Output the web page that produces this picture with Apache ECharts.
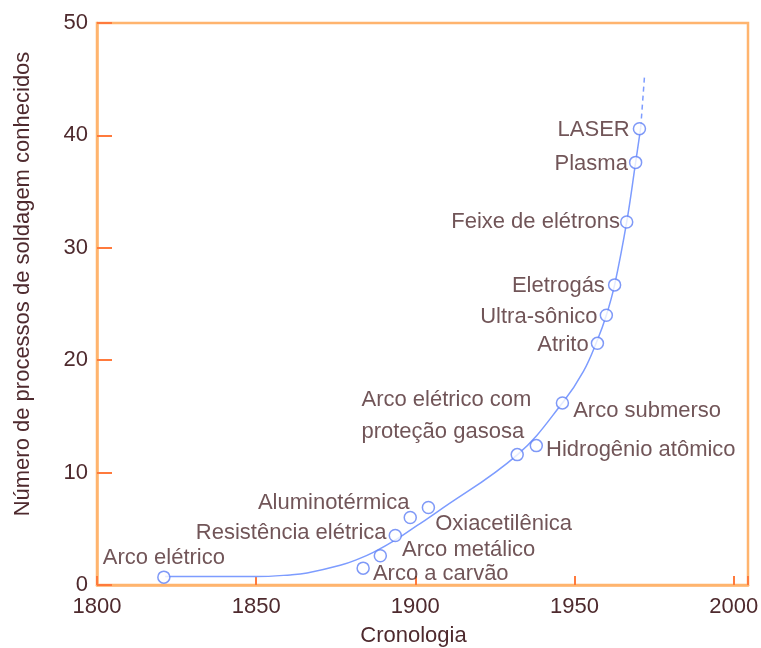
<!DOCTYPE html>
<html>
<head>
<meta charset="utf-8">
<script src="https://cdn.jsdelivr.net/npm/echarts@6/dist/echarts.min.js"></script>
<style>
  html, body { margin: 0; padding: 0; background: #fff; }
  #chart { width: 761px; height: 648px; }
</style>
</head>
<body>
<div id="chart"></div>
<script>
// processos (pontos marcados)
var processos = ['Arco elétrico', 'Arco a carvão', 'Arco metálico', 'Resistência elétrica',
  'Aluminotérmica', 'Oxiacetilênica', 'Arco elétrico com\nproteção gasosa', 'Hidrogênio atômico',
  'Arco submerso', 'Atrito', 'Ultra-sônico', 'Eletrogás', 'Feixe de elétrons', 'Plasma', 'LASER'];
var anos = [1821, 1883.6, 1889, 1893.7, 1898.4, 1904.1, 1932, 1938, 1946.2, 1957.2, 1960, 1962.6, 1966.4, 1969.2, 1970.4];
var numeros = [0.7, 1.5, 2.6, 4.4, 6.0, 6.9, 11.6, 12.4, 16.2, 21.5, 24.0, 26.7, 32.3, 37.6, 40.6];

// curva ajustada
var curvaAnos = [1821.4, 1850, 1860.7, 1866, 1876.4, 1882, 1886.8, 1894.3, 1900.6, 1906.9, 1932.1, 1946.5, 1952.8, 1957.2, 1960, 1962.6, 1966.4, 1969.2, 1970.8];
var curvaValores = [0.75, 0.75, 0.9, 1.07, 1.75, 2.3, 2.9, 4.1, 5.3, 6.5, 11.6, 16.3, 19.0, 21.8, 24, 26.7, 32.3, 37.6, 40.7];
// extrapolacao (tracejado)
var extraAnos = [1970.8, 1972];
var extraValores = [40.7, 45.3];

var xTicks = [1800, 1850, 1900, 1950, 2000];

var corTexto = '#4e2a2e';
var corEixo = '#ffb46e';
var corTick = '#ff7a3c';
var corLinha = '#7d9cff';

// posicao dos rotulos
var rotulos = [
  {position: 'top', distance: 0, offset: [0, -1]},
  {position: 'right', distance: 3, offset: [0, 6]},
  {position: 'right', distance: 3, offset: [12, -6]},
  {position: 'left', distance: 2, offset: [0, -3]},
  {position: 'left', distance: 2, offset: [8, -15]},
  {position: 'right', distance: 2, offset: [-2, 16]},
  {position: [-149, -32], align: 'left', verticalAlign: 'middle', lineHeight: 32},
  {position: 'right', distance: 3, offset: [0, 4]},
  {position: 'right', distance: 4, offset: [0, 8]},
  {position: 'left', distance: 2, offset: [0, 2]},
  {position: 'left', distance: 2, offset: [0, 2]},
  {position: 'left', distance: 3, offset: [0, 1]},
  {position: 'left', distance: 0, offset: [0, 0]},
  {position: 'left', distance: 1, offset: [0, 2]},
  {position: 'left', distance: 3, offset: [0, 1]}
];

var pontos = anos.map(function (a, i) {
  return {name: processos[i], value: [a, numeros[i]], label: rotulos[i]};
});

var myChart = echarts.init(document.getElementById('chart'));
var fonte = 'Liberation Sans, Arial, sans-serif';

var option = {
  animation: false,
  grid: {left: 97, right: 13, top: 23, bottom: 63, outerBoundsMode: 'none',
    show: true, borderColor: corEixo, borderWidth: 2.5},
  xAxis: {
    type: 'value', min: 1800, max: 2004.5, interval: 50,
    name: 'Cronologia', nameLocation: 'middle', nameGap: 40,
    nameTextStyle: {color: corTexto, fontSize: 22, fontFamily: fonte, padding: [0, 18, 0, 0]},
    axisLine: {lineStyle: {color: corEixo, width: 2.5}},
    axisTick: {inside: true, length: 9, lineStyle: {color: corTick, width: 2}},
    axisLabel: {color: corTexto, fontSize: 22, fontFamily: fonte, margin: 11,
      formatter: function (v) { return xTicks.indexOf(v) >= 0 ? v : ''; }},
    splitLine: {show: false}
  },
  yAxis: {
    type: 'value', min: 0, max: 50, interval: 10,
    name: 'Número de processos de soldagem conhecidos', nameLocation: 'middle', nameGap: 63,
    nameTextStyle: {color: corTexto, fontSize: 22, fontFamily: fonte, padding: [0, 0, 0, 40]},
    axisLine: {show: true, lineStyle: {color: corEixo, width: 2.5}},
    axisTick: {show: true, inside: true, length: 15, lineStyle: {color: corTick, width: 2}},
    axisLabel: {color: corTexto, fontSize: 22, fontFamily: fonte, margin: 9},
    splitLine: {show: false}
  },
  series: [
    {
      type: 'line', smooth: 0.4, symbol: 'none',
      data: curvaAnos.map(function (a, i) { return [a, curvaValores[i]]; }),
      lineStyle: {color: corLinha, width: 1.5}, z: 2
    },
    {
      type: 'line', symbol: 'none',
      data: extraAnos.map(function (a, i) { return [a, extraValores[i]]; }),
      lineStyle: {color: corLinha, width: 1.5, type: [5, 4]}, z: 2
    },
    {
      type: 'scatter', symbol: 'circle', symbolSize: 12,
      itemStyle: {color: '#fff', borderColor: '#5f7ff5', borderWidth: 1.5},
      label: {show: true, formatter: '{b}', color: corTexto, fontSize: 22, fontFamily: fonte},
      data: pontos, z: 3
    }
  ]
};

myChart.setOption(option);
</script>
</body>
</html>
